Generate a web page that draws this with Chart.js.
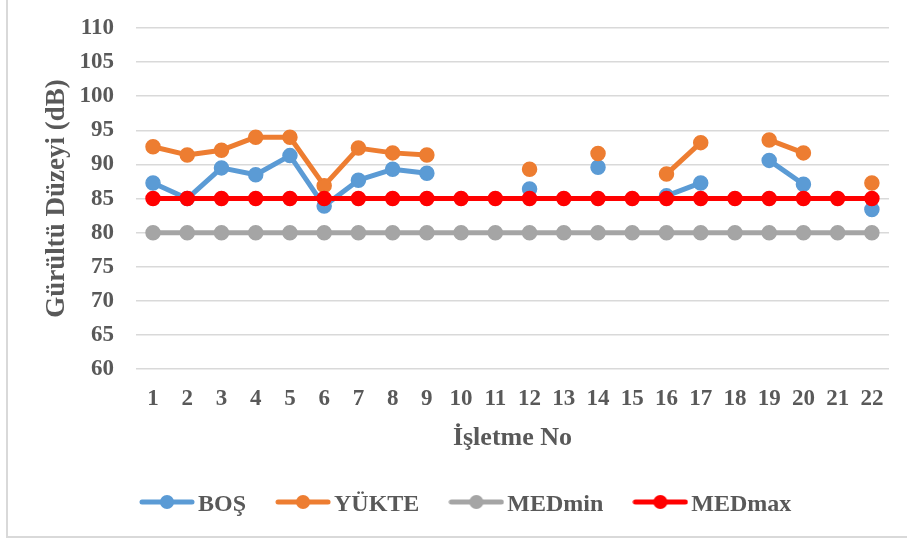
<!DOCTYPE html>
<html>
<head>
<meta charset="utf-8">
<title>Gürültü Düzeyi</title>
<script src="https://cdn.jsdelivr.net/npm/chart.js@4.4.1/dist/chart.umd.min.js"></script>
<style>
  html, body { margin: 0; padding: 0; background: #ffffff; overflow: hidden; }
  #wrap { position: relative; width: 907px; height: 543px; }
  #frame { position: absolute; left: 6px; top: -3px; width: 910px; height: 541px;
           box-sizing: border-box; border: 2px solid #d9d9d9; }
  #chart { position: absolute; left: 0; top: 0; }
</style>
</head>
<body>
<div id="wrap">
  <div id="frame"></div>
  <canvas id="chart" width="907" height="543"></canvas>
</div>
<script>
// İşletme numaraları
const isletmeler = ['1','2','3','4','5','6','7','8','9','10','11','12','13','14','15','16','17','18','19','20','21','22'];

// Boşta ölçülen gürültü düzeyleri (dB)
const bos = [87.3, 85.0, 89.5, 88.5, 91.3, 83.9, 87.7, 89.3, 88.7, null, null, 86.4, null, 89.6, null, 85.4, 87.3, null, 90.6, 87.1, null, 83.4];

// Yükte ölçülen gürültü düzeyleri (dB)
const yukte = [92.6, 91.4, 92.1, 94.0, 94.0, 86.9, 92.4, 91.7, 91.4, null, null, 89.3, null, 91.6, null, 88.6, 93.2, null, 93.6, 91.7, null, 87.3];

// Yönetmelik sınır değerleri (dB)
const medMin = [80, 80, 80, 80, 80, 80, 80, 80, 80, 80, 80, 80, 80, 80, 80, 80, 80, 80, 80, 80, 80, 80];
const medMax = [85, 85, 85, 85, 85, 85, 85, 85, 85, 85, 85, 85, 85, 85, 85, 85, 85, 85, 85, 85, 85, 85];

// Eksen aralığı
const yMin = 60, yMax = 110, yStep = 5;

const FONT = "'Times New Roman', 'Liberation Serif', serif";
const TEXT = '#595959';

// Lejant simgesi: çizgi ve ortasında nokta
function legendIcon(color) {
  const c = document.createElement('canvas');
  c.width = 56; c.height = 22;
  const g = c.getContext('2d');
  g.strokeStyle = color; g.lineWidth = 5; g.lineCap = 'round';
  g.beginPath(); g.moveTo(3, 8); g.lineTo(53, 8); g.stroke();
  g.fillStyle = color;
  g.beginPath(); g.arc(28, 8, 7, 0, Math.PI * 2); g.fill();
  return c;
}

function series(label, data, color, order) {
  return {
    label, data, order,
    borderColor: color, backgroundColor: color,
    borderWidth: 5, borderJoinStyle: 'round', borderCapStyle: 'round',
    pointRadius: 7, pointBorderWidth: 1.5,
    pointBackgroundColor: color, pointBorderColor: color,
    spanGaps: false, tension: 0,
    icon: legendIcon(color)
  };
}

const LEGEND_PAD = 38;
const LEGEND_START = 148;

// Lejantın yatay başlangıcını sabitler
const legendOffset = {
  id: 'legendOffset',
  afterLayout(chart) {
    if (chart.legend) chart.legend.left = LEGEND_START - LEGEND_PAD;
  }
};

new Chart(document.getElementById('chart'), {
  type: 'line',
  data: {
    labels: isletmeler,
    datasets: [
      series('BOŞ', bos, '#5B9BD5', 4),
      series('YÜKTE', yukte, '#ED7D31', 3),
      series('MEDmin', medMin, '#A5A5A5', 2),
      series('MEDmax', medMax, '#FF0000', 1)
    ]
  },
  options: {
    responsive: false,
    animation: false,
    devicePixelRatio: 1,
    layout: { padding: { left: 0, right: 18, top: 28, bottom: 16 } },
    plugins: {
      tooltip: { enabled: false },
      legend: {
        position: 'bottom',
        align: 'start',
        labels: {
          usePointStyle: true,
          pointStyleWidth: 38,
          padding: LEGEND_PAD,
          color: TEXT,
          font: { family: FONT, size: 24, weight: 'bold' },
          sort: (a, b) => a.datasetIndex - b.datasetIndex,
          generateLabels(chart) {
            const items = Chart.defaults.plugins.legend.labels.generateLabels(chart);
            items.forEach(it => { it.pointStyle = chart.data.datasets[it.datasetIndex].icon; });
            return items;
          }
        }
      }
    },
    scales: {
      x: {
        type: 'category',
        offset: true,
        grid: { display: false, drawTicks: false },
        border: { display: false },
        ticks: {
          color: TEXT, padding: 16, maxRotation: 0, autoSkip: false,
          font: { family: FONT, size: 23, weight: 'bold' }
        },
        title: {
          display: true, text: 'İşletme No', color: TEXT,
          padding: { top: -6, bottom: 1 },
          font: { family: FONT, size: 26, weight: 'bold' }
        }
      },
      y: {
        min: yMin, max: yMax,
        grid: { color: '#d9d9d9', lineWidth: 1.5, drawTicks: false },
        border: { display: false },
        ticks: {
          stepSize: yStep, color: TEXT, padding: 22,
          font: { family: FONT, size: 23, weight: 'bold', lineHeight: 0.5 }
        },
        title: {
          display: true, text: 'Gürültü Düzeyi (dB)', color: TEXT,
          padding: { top: 41, bottom: -16 },
          font: { family: FONT, size: 27, weight: 'bold' }
        }
      }
    }
  },
  plugins: [legendOffset]
});
</script>
</body>
</html>
